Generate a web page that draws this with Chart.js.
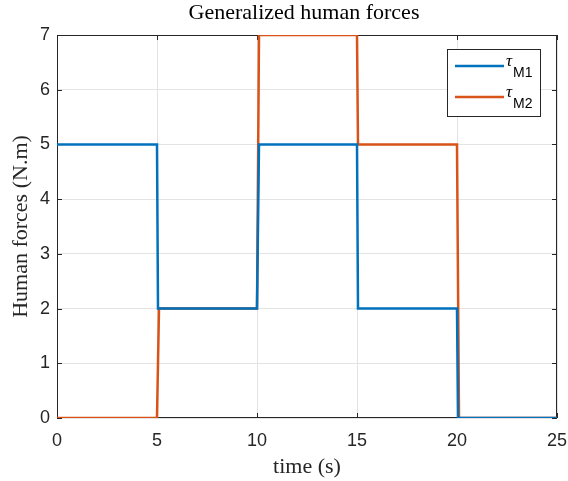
<!DOCTYPE html>
<html>
<head>
<meta charset="utf-8">
<script src="https://cdn.jsdelivr.net/npm/chart.js@4.4.0/dist/chart.umd.min.js"></script>
<style>
  html, body { margin: 0; padding: 0; background: #fff; }
  #wrap { width: 568px; height: 481px; }
</style>
</head>
<body>
<div id="wrap"><canvas id="forceChart" width="568" height="481"></canvas></div>
<script>
// --- data ---
const timeM1 = [0, 5, 5.05, 10, 10.1, 15, 15.05, 20, 20.05, 25];
const tauM1  = [5, 5, 2,    2,  5,    5,  2,     2,  0,     0];
const timeM2 = [0, 5, 5.1, 10, 10.1, 15, 15.05, 20, 20.1, 25];
const tauM2  = [0, 0, 2,   2,  7,    7,  5,     5,  0,    0];
const xTicks = [0, 5, 10, 15, 20, 25];
const yTicks = [0, 1, 2, 3, 4, 5, 6, 7];
const seriesNames = [['\u03C4', 'M1'], ['\u03C4', 'M2']];

const toPoints = (xs, ys) => xs.map((x, i) => ({ x: x, y: ys[i] }));
const serif = '"Liberation Serif", "DejaVu Serif", serif';
const sans = '"Liberation Sans", Arial, sans-serif';

// box with inward ticks, matlab style
const boxPlugin = {
    id: 'box',
    beforeDatasetsDraw(chart) {
        const { ctx, chartArea: a, scales } = chart;
        ctx.save();
        ctx.strokeStyle = '#262626';
        ctx.lineWidth = 1;
        ctx.strokeRect(a.left + 0.5, a.top + 0.5, a.width - 1, a.height - 1);
        ctx.beginPath();
        xTicks.forEach(t => {
            const px = Math.round(scales.x.getPixelForValue(t)) + 0.5;
            ctx.moveTo(px, a.bottom); ctx.lineTo(px, a.bottom - 5);
            ctx.moveTo(px, a.top); ctx.lineTo(px, a.top + 5);
        });
        yTicks.forEach(t => {
            const py = Math.round(scales.y.getPixelForValue(t)) + 0.5;
            ctx.moveTo(a.left, py); ctx.lineTo(a.left + 5, py);
            ctx.moveTo(a.right, py); ctx.lineTo(a.right - 5, py);
        });
        ctx.stroke();
        ctx.restore();
    },
    afterDraw(chart) {
        const { ctx, chartArea: a } = chart;
        ctx.save();
        // title
        ctx.fillStyle = '#000';
        ctx.font = '22px ' + serif;
        ctx.textAlign = 'center';
        ctx.textBaseline = 'middle';
        ctx.fillText('Generalized human forces', 304, 13);

        // legend box
        const lx = 447, ly = 49, lw = 93, lh = 67;
        ctx.fillStyle = '#fff';
        ctx.fillRect(lx, ly, lw, lh);
        ctx.strokeStyle = '#262626';
        ctx.lineWidth = 1;
        ctx.strokeRect(lx + 0.5, ly + 0.5, lw, lh);
        chart.data.datasets.forEach((ds, i) => {
            const y = 66 + i * 31;
            ctx.strokeStyle = ds.borderColor;
            ctx.lineWidth = 2.5;
            ctx.beginPath();
            ctx.moveTo(455, y); ctx.lineTo(504, y);
            ctx.stroke();
            ctx.fillStyle = '#000';
            ctx.textAlign = 'left';
            ctx.textBaseline = 'alphabetic';
            ctx.font = 'italic 17px ' + serif;
            ctx.fillText(seriesNames[i][0], 506, y);
            ctx.font = '14px ' + sans;
            ctx.fillText(seriesNames[i][1], 513, y + 11);
        });
        ctx.restore();
    }
};

new Chart(document.getElementById('forceChart'), {
    type: 'line',
    data: {
        datasets: [
            { label: 'tauM1', data: toPoints(timeM1, tauM1), borderColor: '#0072BD', borderWidth: 2.5, pointRadius: 0, fill: false, tension: 0 },
            { label: 'tauM2', data: toPoints(timeM2, tauM2), borderColor: '#D95319', borderWidth: 2.5, pointRadius: 0, fill: false, tension: 0 }
        ]
    },
    options: {
        responsive: false,
        animation: false,
        layout: { padding: { top: 35, right: 11, left: 0, bottom: 0 } },
        plugins: { legend: { display: false }, title: { display: false }, tooltip: { enabled: false } },
        scales: {
            x: {
                type: 'linear', min: 0, max: 25,
                afterBuildTicks: s => { s.ticks = xTicks.map(v => ({ value: v })); },
                afterFit: s => { s.height = 63; s.paddingLeft = 0; s.paddingRight = 0; },
                grid: { color: '#e3e3e3', drawTicks: false },
                border: { display: false },
                ticks: { color: '#262626', padding: 12, font: { family: sans, size: 18 } },
                title: { display: true, text: 'time (s)', color: '#262626', padding: { top: 0, bottom: 1 }, font: { family: serif, size: 22 } }
            },
            y: {
                type: 'linear', min: 0, max: 7,
                afterBuildTicks: s => { s.ticks = yTicks.map(v => ({ value: v })); },
                afterFit: s => { s.width = 57; s.paddingTop = 0; s.paddingBottom = 0; },
                grid: { color: '#e3e3e3', drawTicks: false },
                border: { display: false },
                ticks: { color: '#262626', padding: 7, font: { family: sans, size: 18 } },
                title: { display: true, text: 'Human forces (N.m)', color: '#262626', padding: { top: 8, bottom: 0 }, font: { family: serif, size: 22 } }
            }
        }
    },
    plugins: [boxPlugin]
});
</script>
</body>
</html>
